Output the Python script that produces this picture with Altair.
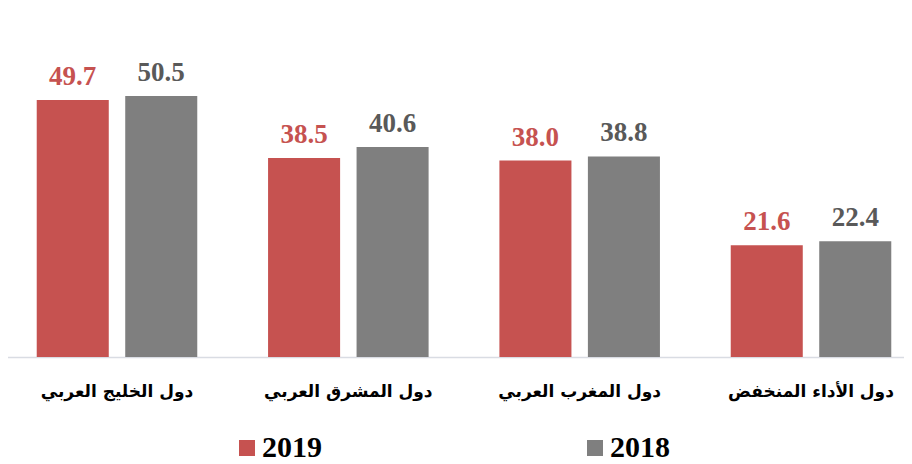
import altair as alt
import pandas as pd

categories = ["دول الخليج العربي", "دول المشرق العربي", "دول المغرب العربي", "دول الأداء المنخفض"]
years = ["2019", "2018"]
values_2019 = [49.7, 38.5, 38.0, 21.6]
values_2018 = [50.5, 40.6, 38.8, 22.4]
colors = ["#C65250", "#7F7F7F"]

rows = []
for c, a, b in zip(categories, values_2019, values_2018):
    rows.append({"region": c, "year": "2019", "value": a})
    rows.append({"region": c, "year": "2018", "value": b})
df = pd.DataFrame(rows)

x = alt.X(
    "region:N",
    sort=categories,
    scale=alt.Scale(range=[-6.67, 918.67], paddingInner=0, paddingOuter=0),
    axis=alt.Axis(
        title=None, labelAngle=0, ticks=False, domainColor="#D9DCE3", domainWidth=1.5,
        labelFont="DejaVu Sans", labelFontWeight="bold", labelFontSize=17,
        labelColor="black", labelPadding=34, labelBaseline="middle",
    ),
)
xo = alt.XOffset("year:N", sort=years, scale=alt.Scale(paddingInner=0.186, paddingOuter=0.40))
y = alt.Y("value:Q", scale=alt.Scale(domain=[0, 67.5], nice=False, zero=True), axis=None)

bars = alt.Chart().mark_bar().encode(
    x=x, xOffset=xo, y=y,
    color=alt.Color(
        "year:N", sort=years,
        scale=alt.Scale(domain=years, range=colors),
        legend=alt.Legend(
            title=None, orient="none", legendX=224, legendY=425, direction="horizontal",
            symbolType="square", symbolSize=256, symbolStrokeWidth=0, labelOffset=0,
            columnPadding=258, labelFont="Liberation Serif", labelFontWeight="bold",
            labelFontSize=30, labelColor="black", padding=0,
        ),
    ),
)

def labels(year, color):
    return alt.Chart().transform_filter(alt.datum.year == year).mark_text(
        dy=-15, baseline="alphabetic", font="Liberation Serif", fontWeight="bold",
        fontSize=27, color=color,
    ).encode(x=x, xOffset=xo, y=y, text=alt.Text("value:Q", format=".1f"))

chart = alt.layer(
    bars, labels("2019", "#C65250"), labels("2018", "#595959"), data=df
).properties(
    width=896, height=349,
    autosize=alt.AutoSizeParams(type="none"),
    padding={"left": 0, "top": 0, "right": 0, "bottom": 115},
).configure_view(stroke=None)

chart.save("out.html", embed_options={"renderer": "svg", "actions": False})
